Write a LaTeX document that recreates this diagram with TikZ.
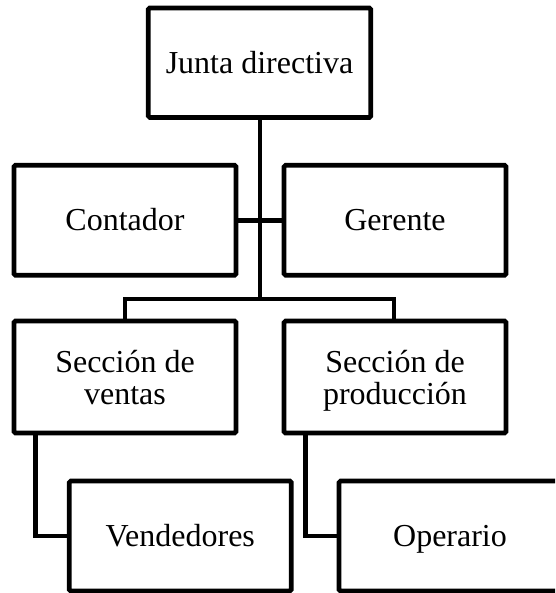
\documentclass[tikz,border=0pt]{standalone}
\usepackage{fontspec}
\setmainfont{Liberation Serif}
\begin{document}
\begin{tikzpicture}[x=1pt,y=-1pt,
  orgbox/.style={draw=black, line width=4.6pt, rounded corners=1.5pt, fill=white,
    minimum width=222pt, minimum height=110pt, inner sep=0pt, outer sep=0pt,
    align=center, font=\fontsize{32}{32}\selectfont, text depth=0pt},
  oneline/.style={orgbox, text height=21.5pt},
  link/.style={draw=black, line width=4.6pt}]
\useasboundingbox (0,0) rectangle (555,593);
\clip (0,0) rectangle (555,593);
\node[oneline, minimum width=222.5pt, minimum height=109.5pt] (junta) at (259.5,62.75) {Junta directiva};
\node[oneline] (contador) at (125,220.25) {Contador};
\node[oneline] (gerente) at (395,220.25) {Gerente};
\node[orgbox, minimum height=112pt] (ventas) at (125,377) {Sección de\\ventas};
\node[orgbox, minimum height=112pt] (produccion) at (395,377) {Sección de\\producción};
\node[oneline] (vendedores) at (180.25,536) {Vendedores};
\node[oneline] (operario) at (450,536) {Operario};
\coordinate (hub) at (260,299);
\coordinate (hubL) at (125,299);
\coordinate (hubR) at (394,299);
\coordinate (elbowL) at (35.5,536);
\coordinate (elbowR) at (305.5,536);
\draw[link] (junta.south -| hub) -- (hub);
\draw[link] (contador.east) -- (gerente.west);
\draw[link] (ventas.north) -- (hubL) -- (hubR) -- (produccion.north -| hubR);
\draw[link] (ventas.south -| elbowL) -- (elbowL) -- (vendedores.west);
\draw[link] (produccion.south -| elbowR) -- (elbowR) -- (operario.west);
\end{tikzpicture}
\end{document}
